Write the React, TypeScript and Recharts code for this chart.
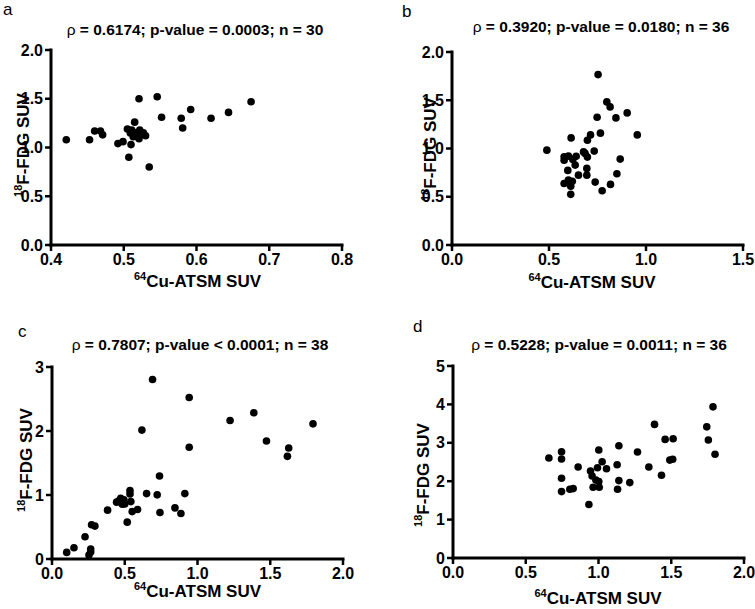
import React from 'react';
import { ScatterChart, Scatter, XAxis, YAxis } from 'recharts';

// Panel a
const aX = [0.421, 0.453, 0.460, 0.468, 0.471, 0.492, 0.499, 0.510, 0.507, 0.505, 0.515, 0.521, 0.546, 0.552, 0.535, 0.579, 0.581, 0.592, 0.620, 0.644, 0.675, 0.509, 0.516, 0.522, 0.527, 0.513, 0.521, 0.518, 0.511, 0.530];
const aY = [1.08, 1.08, 1.17, 1.17, 1.13, 1.04, 1.06, 1.03, 0.90, 1.19, 1.26, 1.50, 1.52, 1.31, 0.80, 1.30, 1.20, 1.39, 1.30, 1.36, 1.47, 1.15, 1.15, 1.18, 1.15, 1.11, 1.09, 1.13, 1.18, 1.12];

// Panel b
const bX = [0.753, 0.798, 0.815, 0.903, 0.748, 0.845, 0.955, 0.765, 0.614, 0.714, 0.698, 0.489, 0.678, 0.733, 0.686, 0.698, 0.578, 0.600, 0.623, 0.578, 0.635, 0.867, 0.597, 0.695, 0.652, 0.695, 0.850, 0.600, 0.578, 0.612, 0.738, 0.817, 0.612, 0.774, 0.640, 0.620];
const bY = [1.766, 1.483, 1.431, 1.369, 1.324, 1.317, 1.141, 1.159, 1.110, 1.141, 1.086, 0.983, 0.965, 0.973, 0.949, 0.911, 0.914, 0.921, 0.887, 0.879, 0.828, 0.890, 0.773, 0.794, 0.724, 0.724, 0.738, 0.673, 0.638, 0.610, 0.652, 0.628, 0.525, 0.562, 0.920, 0.660];

// Panel c
const cX = [0.691, 0.943, 0.618, 1.224, 1.387, 1.794, 1.474, 1.627, 1.618, 0.943, 0.739, 0.536, 0.536, 0.650, 0.723, 0.913, 0.444, 0.472, 0.494, 0.483, 0.542, 0.551, 0.588, 0.382, 0.517, 0.742, 0.845, 0.886, 0.272, 0.295, 0.227, 0.151, 0.101, 0.266, 0.266, 0.254, 0.460, 0.500];
const cY = [2.804, 2.523, 2.014, 2.165, 2.284, 2.112, 1.843, 1.734, 1.604, 1.745, 1.298, 1.069, 1.017, 1.022, 1.002, 1.022, 0.888, 0.950, 0.924, 0.857, 0.897, 0.741, 0.773, 0.763, 0.576, 0.726, 0.799, 0.710, 0.534, 0.514, 0.347, 0.176, 0.103, 0.156, 0.109, 0.062, 0.910, 0.860];

// Panel d
const dX = [1.787, 1.744, 1.755, 1.801, 1.385, 1.458, 1.513, 1.510, 1.490, 1.268, 1.346, 1.433, 1.140, 1.002, 1.128, 1.025, 1.055, 1.140, 1.215, 1.131, 0.934, 0.860, 0.803, 0.826, 0.746, 0.746, 0.746, 0.746, 0.659, 0.945, 0.993, 0.956, 0.982, 0.963, 1.005, 1.002];
const dY = [3.936, 3.416, 3.071, 2.700, 3.479, 3.089, 3.105, 2.570, 2.550, 2.760, 2.370, 2.155, 2.923, 2.811, 2.430, 2.508, 2.326, 2.015, 1.963, 1.791, 1.392, 2.370, 1.791, 1.807, 2.767, 2.578, 2.077, 1.729, 2.604, 2.266, 2.352, 2.137, 2.033, 1.843, 1.843, 1.989];

const ticksAX = [0.4, 0.5, 0.6, 0.7, 0.8];
const ticksBX = [0, 0.5, 1.0, 1.5];
const ticksCDX = [0, 0.5, 1.0, 1.5, 2.0];
const ticksABY = [0, 0.5, 1.0, 1.5, 2.0];
const ticksCY = [0, 1, 2, 3];
const ticksDY = [0, 1, 2, 3, 4, 5];

const titles = [
  { rho: '0.6174', p: '= 0.0003', n: '30' },
  { rho: '0.3920', p: '= 0.0180', n: '36' },
  { rho: '0.7807', p: '< 0.0001', n: '38' },
  { rho: '0.5228', p: '= 0.0011', n: '36' },
];
const letters = ['a', 'b', 'c', 'd'];

const zip = (xs: number[], ys: number[]) => xs.map((x, i) => ({ x, y: ys[i] }));

const FONT = '"Liberation Sans", Arial, Helvetica, sans-serif';

const Dot = (p: any) => <circle cx={p.cx} cy={p.cy} r={3.8} fill="#000" />;

type PanelProps = {
  left: number; top: number; width: number; height: number;
  plotLeft: number; plotTop: number; plotW: number; plotH: number;
  xDomain: [number, number]; xTicks: number[];
  yDomain: [number, number]; yTicks: number[]; yDigits: number;
  data: { x: number; y: number }[];
};

function Panel(props: PanelProps) {
  const { left, top, width, height, plotLeft, plotTop, plotW, plotH, xDomain, xTicks, yDomain, yTicks, yDigits, data } = props;
  const yAxisW = 40;
  const xAxisH = 30;
  const margin = {
    top: plotTop,
    left: plotLeft - yAxisW,
    right: width - plotLeft - plotW,
    bottom: height - plotTop - plotH - xAxisH,
  };
  const tickStyle = { fill: '#000', fontSize: 16, fontWeight: 700, fontFamily: FONT };
  return (
    <div style={{ position: 'absolute', left, top, width, height }}>
      <ScatterChart width={width} height={height} margin={margin}>
        <XAxis
          type="number"
          dataKey="x"
          domain={xDomain}
          ticks={xTicks}
          interval={0}
          allowDataOverflow
          height={xAxisH}
          stroke="#000"
          axisLine={{ stroke: '#000', strokeWidth: 3, strokeLinecap: 'square' }}
          tickLine={{ stroke: '#000', strokeWidth: 2.5 }}
          tickSize={6}
          tickMargin={3}
          tick={tickStyle}
          tickFormatter={(v: number) => v.toFixed(1)}
        />
        <YAxis
          type="number"
          dataKey="y"
          domain={yDomain}
          ticks={yTicks}
          interval={0}
          allowDataOverflow
          width={yAxisW}
          stroke="#000"
          axisLine={{ stroke: '#000', strokeWidth: 3, strokeLinecap: 'square' }}
          tickLine={{ stroke: '#000', strokeWidth: 2.5 }}
          tickSize={6}
          tickMargin={2}
          tick={tickStyle}
          tickFormatter={(v: number) => v.toFixed(yDigits)}
        />
        <Scatter data={data} isAnimationActive={false} shape={Dot} />
      </ScatterChart>
    </div>
  );
}

const titlePos = [
  { x: 195, y: 35 },
  { x: 601, y: 32 },
  { x: 200, y: 350 },
  { x: 599, y: 350 },
];
const letterPos = [
  { x: 3, y: 15 },
  { x: 402, y: 17 },
  { x: 18, y: 337 },
  { x: 413, y: 332 },
];
const xLabelPos = [
  { x: 197.5, y: 287 },
  { x: 592, y: 288 },
  { x: 197.5, y: 597 },
  { x: 598, y: 604 },
];
const yLabelPos = [
  { x: 23, y: 145 },
  { x: 430, y: 149 },
  { x: 26, y: 460 },
  { x: 422.5, y: 475 },
];

export default function App() {
  return (
    <div style={{ position: 'absolute', left: 0, top: 0, width: 755, height: 609, background: '#fff', overflow: 'hidden' }}>
      <Panel left={0} top={0} width={377} height={300} plotLeft={51} plotTop={50} plotW={291} plotH={195}
        xDomain={[0.4, 0.8]} xTicks={ticksAX} yDomain={[0, 2]} yTicks={ticksABY} yDigits={1} data={zip(aX, aY)} />
      <Panel left={377} top={0} width={378} height={300} plotLeft={75} plotTop={52} plotW={291} plotH={193}
        xDomain={[0, 1.5]} xTicks={ticksBX} yDomain={[0, 2]} yTicks={ticksABY} yDigits={1} data={zip(bX, bY)} />
      <Panel left={0} top={300} width={377} height={309} plotLeft={52} plotTop={67} plotW={291} plotH={192}
        xDomain={[0, 2]} xTicks={ticksCDX} yDomain={[0, 3]} yTicks={ticksCY} yDigits={0} data={zip(cX, cY)} />
      <Panel left={377} top={300} width={378} height={309} plotLeft={76} plotTop={66} plotW={291} plotH={192}
        xDomain={[0, 2]} xTicks={ticksCDX} yDomain={[0, 5]} yTicks={ticksDY} yDigits={0} data={zip(dX, dY)} />
      <svg width={755} height={609} style={{ position: 'absolute', left: 0, top: 0, pointerEvents: 'none' }} fontFamily={FONT}>
        {letters.map((l, i) => (
          <text key={'l' + i} x={letterPos[i].x} y={letterPos[i].y} fontSize={17} fill="#000">{l}</text>
        ))}
        {titles.map((t, i) => (
          <text key={'t' + i} x={titlePos[i].x} y={titlePos[i].y} textAnchor="middle" fontSize={15.5} fontWeight={700} fill="#000">
            <tspan fontWeight={400}>ρ</tspan>
            <tspan>{` = ${t.rho}; p-value ${t.p}; n = ${t.n}`}</tspan>
          </text>
        ))}
        {xLabelPos.map((p, i) => (
          <text key={'x' + i} x={p.x} y={p.y} textAnchor="middle" fontSize={17} fontWeight={700} fill="#000">
            <tspan fontSize={11} dy={-7}>64</tspan>
            <tspan dy={7}>Cu-ATSM SUV</tspan>
          </text>
        ))}
        {yLabelPos.map((p, i) => (
          <text key={'y' + i} transform={`translate(${p.x + 6},${p.y}) rotate(-90)`} textAnchor="middle" fontSize={17} fontWeight={700} fill="#000">
            <tspan fontSize={11} dy={-7}>18</tspan>
            <tspan dy={7}>F-FDG SUV</tspan>
          </text>
        ))}
      </svg>
    </div>
  );
}
